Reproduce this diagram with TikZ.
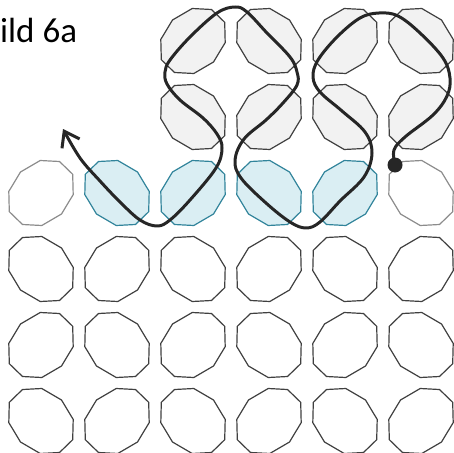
\documentclass[tikz,border=0pt]{standalone}
\usepackage{fontspec}
\setmainfont{Carlito}
\usetikzlibrary{arrows.meta}
\definecolor{cdark}{HTML}{404040}
\definecolor{cgrayfill}{HTML}{F2F2F2}
\definecolor{cblueline}{HTML}{31849B}
\definecolor{cbluefill}{HTML}{DAEEF3}
\definecolor{cfaint}{HTML}{8C8C8C}
\definecolor{ccurve}{HTML}{262626}
\tikzset{
  cellplain/.style={draw=cdark,fill=white,line width=1.2pt,line join=round},
  cellgray/.style={draw=cdark,fill=cgrayfill,line width=1.2pt,line join=round},
  cellblue/.style={draw=cblueline,fill=cbluefill,line width=1.2pt,line join=round},
  cellfaint/.style={draw=cfaint,fill=white,line width=1.2pt,line join=round},
  curveline/.style={draw=ccurve,line width=3pt,line cap=round,line join=round},
}
\newcommand\drawcell[3]{%
  \pgfmathtruncatemacro\cellpar{mod(#1+#2,2)}%
  \pgfmathsetmacro\cellx{41+76*(#1-1)}%
  \pgfmathsetmacro\celly{41+76*(#2-1)}%
  \ifnum\cellpar=1 \def\cellxs{1}\else\def\cellxs{-1}\fi
  \begin{scope}[shift={(\cellx,\celly)},xscale=\cellxs]
    \draw[#3] (-18.5,-31.5) -- (0.8,-32.5) -- (20.5,-21) -- (32.2,-1.6) -- (31.7,18.7)
      -- (18.5,31.5) -- (-0.8,32.5) -- (-20.5,21) -- (-32.2,1.6) -- (-31.7,-18.7) -- cycle;
  \end{scope}}
\begin{document}
\begin{tikzpicture}[x=1pt,y=-1pt]
\useasboundingbox (0,0) rectangle (454,452);
\foreach \c in {3,...,6} \foreach \r in {1,2} {\drawcell{\c}{\r}{cellgray}}
\drawcell{1}{3}{cellfaint}
\drawcell{6}{3}{cellfaint}
\foreach \c in {2,...,5} {\drawcell{\c}{3}{cellblue}}
\foreach \c in {1,...,6} \foreach \r in {4,5,6} {\drawcell{\c}{\r}{cellplain}}
\node[anchor=base west,inner sep=0,font=\fontsize{35}{40}\selectfont] (title) at (0,42) {ild 6a};
\node[circle,fill=ccurve,inner sep=0,minimum size=15pt] (start) at (395,165) {};
\coordinate (tip) at (63,129);
\draw[curveline,-{Straight Barb[length=14pt,width=20pt]}] plot[smooth,tension=0.6] coordinates {
 (start.center) (394,150) (405,137) (433,115) (447,96) (450,78) (443,58) (420,33) (398,16)
 (379,13) (360,18) (337,37) (318,60) (313,77) (320,92) (342,111) (365,132) (372,153)
 (364,177) (340,201) (320,222) (306,228) (290,222) (266,203) (241,178) (235,160) (244,139)
 (266,120) (283,103) (297,85) (297,72) (290,57) (267,33) (247,12) (235,7) (217,13) (190,37)
 (170,60) (165,72) (167,84) (180,100) (203,118) (217,134) (222,148) (216,168) (190,200)
 (170,220) (157,226) (140,220) (120,202) (100,181) (80,158) (tip)};
\end{tikzpicture}
\end{document}
